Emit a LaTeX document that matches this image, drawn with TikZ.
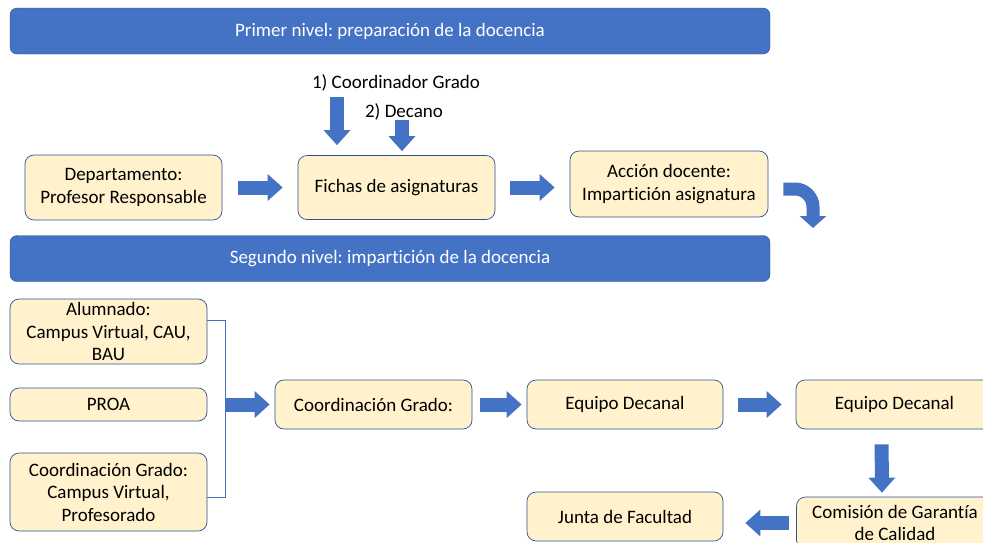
\documentclass[tikz,border=0pt]{standalone}
\usepackage{fontspec}
\setmainfont{Carlito}[Ligatures=NoCommon]
\usetikzlibrary{arrows.meta}
\definecolor{bandblue}{HTML}{4472C4}
\definecolor{edgeblue}{HTML}{2F528F}
\definecolor{boxfill}{HTML}{FFF2CC}
\frenchspacing
\begin{document}
\begin{tikzpicture}[x=1pt,y=-1pt,
  box/.style={rectangle, rounded corners=9pt, draw=edgeblue, fill=boxfill, line width=0.7pt, align=center, inner sep=0pt, minimum width=197pt, font=\fontsize{19}{22.5}\selectfont},
  banner/.style={rectangle, rounded corners=7pt, draw=edgeblue, fill=bandblue, text=white, inner sep=0pt, minimum width=760pt, minimum height=46pt, font=\fontsize{19}{22.5}\selectfont},
  lbl/.style={inner sep=0pt, font=\fontsize{19}{22.5}\selectfont},
  barrow/.style={draw=bandblue, line width=14pt, -{Triangle[width=26pt,length=15pt]}},
  bline/.style={draw=bandblue, line width=0.8pt}]
  \useasboundingbox (0,0) rectangle (983,542);
  \clip (0,0) rectangle (983,542);

  \node[banner] (b1) at (390,31) {Primer nivel: preparación de la docencia};
  \node[banner] (b2) at (390,258.5) {Segundo nivel: impartición de la docencia};

  \node[lbl] (t1) at (396,83) {1) Coordinador Grado};
  \node[lbl] (t2) at (404,112) {2) Decano};
  \coordinate (c1) at (337,97);
  \coordinate (c2) at (402,120);

  \node[box, minimum height=65pt] (dep) at (123.5,187.5) {Departamento:\\Profesor Responsable};
  \node[box, minimum height=64pt] (fich) at (396.5,187.5) {Fichas de asignaturas};
  \node[box, minimum height=66pt, minimum width=198pt] (acc) at (669,184) {Acción docente:\\Impartición asignatura};
  \coordinate (c3) at (813,228);

  \node[box, minimum height=65pt] (alu) at (108.5,331.5) {Alumnado:\\Campus Virtual, CAU,\\BAU};
  \node[box, minimum height=33pt] (proa) at (108.5,404.5) {PROA};
  \node[box, minimum height=78pt] (cgr) at (108.5,492) {Coordinación Grado:\\Campus Virtual,\\Profesorado};
  \node[box, minimum height=49pt] (coord) at (373.5,404.5) {Coordinación Grado:};
  \node[box, minimum height=49pt, minimum width=196pt] (eq1) at (625,404.5) {Equipo Decanal};
  \node[box, minimum height=49pt] (eq2) at (894.5,404.5) {Equipo Decanal};
  \node[box, minimum height=52pt] (com) at (895,523) {Comisión de Garantía\\de Calidad};
  \node[box, minimum height=49pt, minimum width=196pt] (junta) at (625,516.5) {Junta de Facultad};

  \draw[barrow, shorten >=10pt] (c1) -- (c1 |- fich.north);
  \draw[barrow, shorten >=4pt] (c2) -- (c2 |- fich.north);
  \draw[barrow, shorten <=16pt, shorten >=15pt] (dep) -- (fich);
  \draw[barrow, shorten <=15pt, shorten >=15pt] (fich.east) -- (fich.east -| acc.west);
  \draw[draw=bandblue, line width=13pt, rounded corners=18pt, -{Triangle[width=26pt,length=12pt]}] ([xshift=15pt,yshift=-5pt]acc.east) -| (c3);

  \draw[bline] ([yshift=11.5pt]alu.east) -| ([xshift=18pt,yshift=-5pt]cgr.east) -- ([yshift=-5pt]cgr.east);
  \draw[barrow, shorten <=18pt, shorten >=5pt] (proa) -- (coord);
  \draw[barrow, shorten <=8pt, shorten >=5pt] (coord) -- (eq1);
  \draw[barrow, shorten <=15pt, shorten >=14pt] (eq1) -- (eq2);
  \draw[barrow, shorten <=15pt, shorten >=4pt] ([xshift=-13pt]eq2.south) -- ([xshift=-13pt]com.north);
  \draw[barrow, shorten <=7pt, shorten >=22pt] (com.west) -- (com.west -| junta.east);

\end{tikzpicture}
\end{document}
